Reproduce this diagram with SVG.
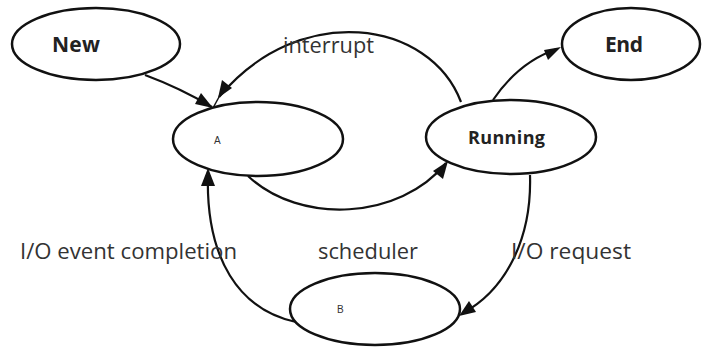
<svg xmlns="http://www.w3.org/2000/svg" width="707" height="349" viewBox="0 0 707 349">
<style>
.node ellipse{fill:#fff;stroke:#111;stroke-width:2.5}
.big{font-family:"Open Sans","Liberation Sans",sans-serif;font-weight:bold;fill:#222}
.small{font-family:"Liberation Sans",sans-serif;font-size:10px;fill:#333}
.lbl{font-family:"Open Sans","Liberation Sans",sans-serif;font-size:21px;fill:#333}
#connectors path{fill:none;stroke:#111;stroke-width:2.2}
#connectors polygon{fill:#111}
</style>
<rect width="707" height="349" fill="#fff"/>
<g id="connectors">
<path d="M145,75 Q180,88 212,107"/>
<polygon points="213,108 195,104 201,93"/>
<path d="M461,102 C430,20 300,0 219,97"/>
<line x1="219" y1="97" x2="213" y2="108" stroke="#111" stroke-width="1.5"/>
<polygon points="218,98 222,80 232,88"/>
<path d="M248,176 C300,225 400,220 446,163"/>
<polygon points="448,161 443,179 433,171"/>
<path d="M493,100 C510,75 530,58 557,49"/>
<polygon points="561,47 548,60 544,50"/>
<path d="M530,175 C532,240 505,290 463,313"/>
<polygon points="459,316 469,301 476,312"/>
<path d="M296,322 C240,310 205,260 208,172"/>
<polygon points="208,168 215,186 201,186"/>
</g>
<g id="node-new" class="node"><ellipse cx="96" cy="44" rx="84" ry="36"/><text class="big" x="52" y="52" font-size="21" textLength="48">New</text></g>
<g id="node-end" class="node"><ellipse cx="631" cy="44" rx="69" ry="36"/><text class="big" x="605" y="52" font-size="21" textLength="38">End</text></g>
<g id="node-a" class="node"><ellipse cx="258" cy="139" rx="85" ry="37"/><text class="small" x="214" y="144">A</text></g>
<g id="node-running" class="node"><ellipse cx="511" cy="137" rx="85" ry="37"/><text class="big" x="468" y="144" font-size="18" textLength="77">Running</text></g>
<g id="node-b" class="node"><ellipse cx="375" cy="309" rx="85" ry="36"/><text class="small" x="337" y="313">B</text></g>
<g id="labels">
<text class="lbl" x="283" y="53" textLength="91" lengthAdjust="spacingAndGlyphs">interrupt</text>
<text class="lbl" x="20" y="259" textLength="217" lengthAdjust="spacingAndGlyphs">I/O event completion</text>
<text class="lbl" x="318" y="259" textLength="100" lengthAdjust="spacingAndGlyphs">scheduler</text>
<text class="lbl" x="511" y="259" textLength="120" lengthAdjust="spacingAndGlyphs">I/O request</text>
</g>
</svg>
